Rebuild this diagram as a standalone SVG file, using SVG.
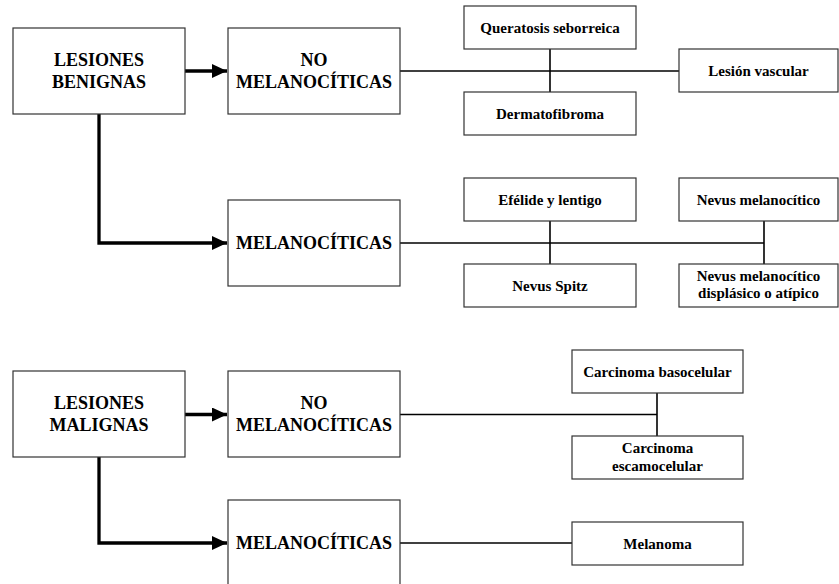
<svg xmlns="http://www.w3.org/2000/svg" width="839" height="584" viewBox="0 0 839 584" font-family="'Liberation Serif', 'Times New Roman', serif">
<style>
.box{fill:#fff;stroke:#333;stroke-width:1.2}
.big{font-weight:700;font-size:18px;text-anchor:middle;fill:#000}
.sm{font-weight:700;font-size:15px;text-anchor:middle;fill:#000}
.thin{fill:none;stroke:#000;stroke-width:1.6}
.thick{fill:none;stroke:#000;stroke-width:3.3}
</style>
<defs>
<marker id="ah" markerUnits="userSpaceOnUse" markerWidth="16" markerHeight="14" refX="15" refY="7" orient="auto">
<path d="M0,0 L15,7 L0,14 z" fill="#000"/>
</marker>
</defs>
<rect width="839" height="584" fill="#fff"/>
<g id="connectors">
<path class="thick" d="M185,71 H227" marker-end="url(#ah)"/>
<path class="thick" d="M99,114 V243 H227" marker-end="url(#ah)"/>
<path class="thick" d="M185,414.5 H227" marker-end="url(#ah)"/>
<path class="thick" d="M99,457 V543 H227" marker-end="url(#ah)"/>
<path class="thin" d="M400,71 H679"/>
<path class="thin" d="M550,49 V92"/>
<path class="thin" d="M400,243 H764"/>
<path class="thin" d="M550,221 V264"/>
<path class="thin" d="M764,221 V264"/>
<path class="thin" d="M400,414.5 H657"/>
<path class="thin" d="M657,393 V436"/>
<path class="thin" d="M400,543 H572"/>
</g>
<g id="lesiones-benignas"><rect class="box" x="13" y="28" width="172" height="86"/><text class="big" x="99" y="66">LESIONES</text><text class="big" x="99" y="88">BENIGNAS</text></g>
<g id="no-melanociticas-b"><rect class="box" x="228" y="28" width="172" height="86"/><text class="big" x="314" y="66">NO</text><text class="big" x="314" y="88">MELANOCÍTICAS</text></g>
<g id="melanociticas-b"><rect class="box" x="228" y="200" width="172" height="86"/><text class="big" x="314" y="249">MELANOCÍTICAS</text></g>
<g id="queratosis"><rect class="box" x="464" y="6" width="172" height="43"/><text class="sm" x="550" y="33">Queratosis seborreica</text></g>
<g id="dermatofibroma"><rect class="box" x="464" y="92" width="172" height="43"/><text class="sm" x="550" y="119">Dermatofibroma</text></g>
<g id="lesion-vascular"><rect class="box" x="679" y="49" width="159" height="43"/><text class="sm" x="758.5" y="76">Lesión vascular</text></g>
<g id="efelide"><rect class="box" x="464" y="178" width="172" height="43"/><text class="sm" x="550" y="205">Efélide y lentigo</text></g>
<g id="nevus-spitz"><rect class="box" x="464" y="264" width="172" height="43"/><text class="sm" x="550" y="291">Nevus Spitz</text></g>
<g id="nevus-melanocitico"><rect class="box" x="679" y="178" width="159" height="43"/><text class="sm" x="758.5" y="205">Nevus melanocítico</text></g>
<g id="nevus-displasico"><rect class="box" x="679" y="264" width="159" height="43"/><text class="sm" x="758.5" y="281">Nevus melanocítico</text><text class="sm" x="758.5" y="298">displásico o atípico</text></g>
<g id="lesiones-malignas"><rect class="box" x="13" y="371" width="172" height="86"/><text class="big" x="99" y="409">LESIONES</text><text class="big" x="99" y="431">MALIGNAS</text></g>
<g id="no-melanociticas-m"><rect class="box" x="228" y="371" width="172" height="86"/><text class="big" x="314" y="409">NO</text><text class="big" x="314" y="431">MELANOCÍTICAS</text></g>
<g id="melanociticas-m"><rect class="box" x="228" y="500" width="172" height="86"/><text class="big" x="314" y="549">MELANOCÍTICAS</text></g>
<g id="carcinoma-baso"><rect class="box" x="572" y="350" width="171" height="43"/><text class="sm" x="657.5" y="377">Carcinoma basocelular</text></g>
<g id="carcinoma-escamo"><rect class="box" x="572" y="436" width="171" height="43"/><text class="sm" x="657.5" y="453">Carcinoma</text><text class="sm" x="657.5" y="471">escamocelular</text></g>
<g id="melanoma"><rect class="box" x="572" y="522" width="171" height="43"/><text class="sm" x="657.5" y="549">Melanoma</text></g>
</svg>
